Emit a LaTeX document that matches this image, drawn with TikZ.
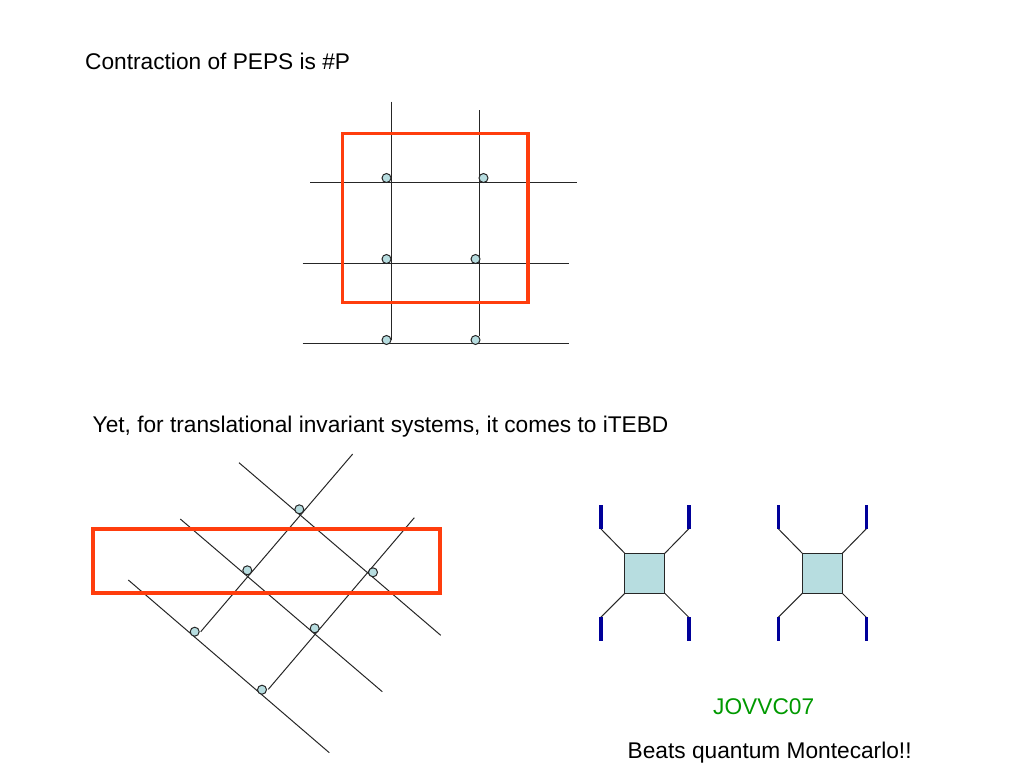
\documentclass[tikz,border=0pt]{standalone}
\usepackage{fontspec}
\setmainfont{Liberation Sans}
\usetikzlibrary{positioning}
\definecolor{redline}{RGB}{255,61,13}
\definecolor{paleblue}{RGB}{183,221,224}
\definecolor{darkblue}{RGB}{0,0,153}
\definecolor{citegreen}{RGB}{0,153,0}

\begin{document}
\begin{tikzpicture}[x=1pt, y=-1pt]
	\tikzstyle{site} = [circle, draw=black!85, fill=paleblue, line width=1pt, minimum size=9pt, inner sep=0pt]
	\tikzstyle{wire} = [line width=1pt, black!85]
	\tikzstyle{window} = [draw=redline]
	\tikzstyle{tensor} = [rectangle, draw=black!85, fill=paleblue, line width=1pt, minimum size=40pt, inner sep=0pt, outer sep=0pt]
	\tikzstyle{leg} = [line width=3.4pt, darkblue]
	\tikzstyle{label} = [anchor=base west, inner sep=0pt, font=\fontsize{22.7}{27}\selectfont]

	\useasboundingbox (0,0) rectangle (1024,768);

	\node (title) [label] at (85,69.5) {Contraction of PEPS is \#P};
	\node (yet) [label] at (92.5,432) {Yet, for translational invariant systems, it comes to iTEBD};
	\node (cite) [label, text=citegreen] at (713,714.5) {JOVVC07};
	\node (beats) [label] at (627.5,758.5) {Beats quantum Montecarlo!!};

	% square lattice
	\coordinate (v1a) at (391,101.5);
	\coordinate (v1b) at (391,340);
	\coordinate (v2a) at (479.8,110);
	\coordinate (v2b) at (479.8,336);
	\coordinate (h1a) at (310,182);
	\coordinate (h1b) at (576.5,182);
	\coordinate (h2a) at (302.5,263);
	\coordinate (h2b) at (568.5,263);
	\coordinate (h3a) at (302.5,343.5);
	\coordinate (h3b) at (568.5,343.5);

	\draw (v1a) edge [wire] (v1b);
	\draw (v2a) edge [wire] (v2b);
	\draw (h1a) edge [wire] (h1b);
	\draw (h2a) edge [wire] (h2b);
	\draw (h3a) edge [wire] (h3b);

	\node (1) [site] at (386.5,178) {};
	\node (2) [site] at (483.5,178) {};
	\node (3) [site] at (386.5,259) {};
	\node (4) [site] at (475.5,259) {};
	\node (5) [site] at (386.5,340) {};
	\node (6) [site] at (475.5,340) {};

	\draw [window, line width=3.4pt] (342.5,133.5) rectangle (528,302.5);

	% tilted lattice
	\coordinate (d1a) at (239,462.7);
	\coordinate (d1b) at (440.7,635.3);
	\coordinate (d2a) at (180.3,519);
	\coordinate (d2b) at (382.3,691.7);
	\coordinate (d3a) at (128.3,580);
	\coordinate (d3b) at (329.3,752.7);
	\coordinate (e1a) at (352.7,454);
	\coordinate (e1b) at (200.7,631.7);
	\coordinate (e2a) at (414.3,517.7);
	\coordinate (e2b) at (268.3,689.3);

	\draw (d1a) edge [wire] (d1b);
	\draw (d2a) edge [wire] (d2b);
	\draw (d3a) edge [wire] (d3b);
	\draw (e1a) edge [wire] (e1b);
	\draw (e2a) edge [wire] (e2b);

	\node (7) [site] at (299.3,509.3) {};
	\node (8) [site] at (247.3,570.3) {};
	\node (9) [site] at (373,572.3) {};
	\node (10) [site] at (194.7,631.7) {};
	\node (11) [site] at (314.7,628.3) {};
	\node (12) [site] at (262,689.7) {};

	\draw [window, line width=4.2pt] (92.7,528.7) rectangle (440,593.3);

	% the two tensors
	\node (t1) [tensor] at (644.8,573.3) {};
	\node (t2) [tensor, right=137.5pt of t1] {};

	\coordinate [above left=24.5pt and 24pt of t1.north west] (t1nw);
	\coordinate [above right=24.5pt and 24pt of t1.north east] (t1ne);
	\coordinate [below left=24pt and 24pt of t1.south west] (t1sw);
	\coordinate [below right=24pt and 24pt of t1.south east] (t1se);
	\coordinate [above left=24.5pt and 24pt of t2.north west] (t2nw);
	\coordinate [above right=24.5pt and 24pt of t2.north east] (t2ne);
	\coordinate [below left=24pt and 24pt of t2.south west] (t2sw);
	\coordinate [below right=24pt and 24pt of t2.south east] (t2se);

	\foreach \t in {t1, t2} {
		\draw (\t.north west) edge [wire] (\t nw);
		\draw (\t.north east) edge [wire] (\t ne);
		\draw (\t.south west) edge [wire] (\t sw);
		\draw (\t.south east) edge [wire] (\t se);
		\coordinate [above=24pt of \t nw] (\t nwend);
		\coordinate [above=24pt of \t ne] (\t neend);
		\coordinate [below=24pt of \t sw] (\t swend);
		\coordinate [below=24pt of \t se] (\t seend);
		\draw (\t nw) edge [leg] (\t nwend);
		\draw (\t ne) edge [leg] (\t neend);
		\draw (\t sw) edge [leg] (\t swend);
		\draw (\t se) edge [leg] (\t seend);
	}
\end{tikzpicture}
\end{document}
